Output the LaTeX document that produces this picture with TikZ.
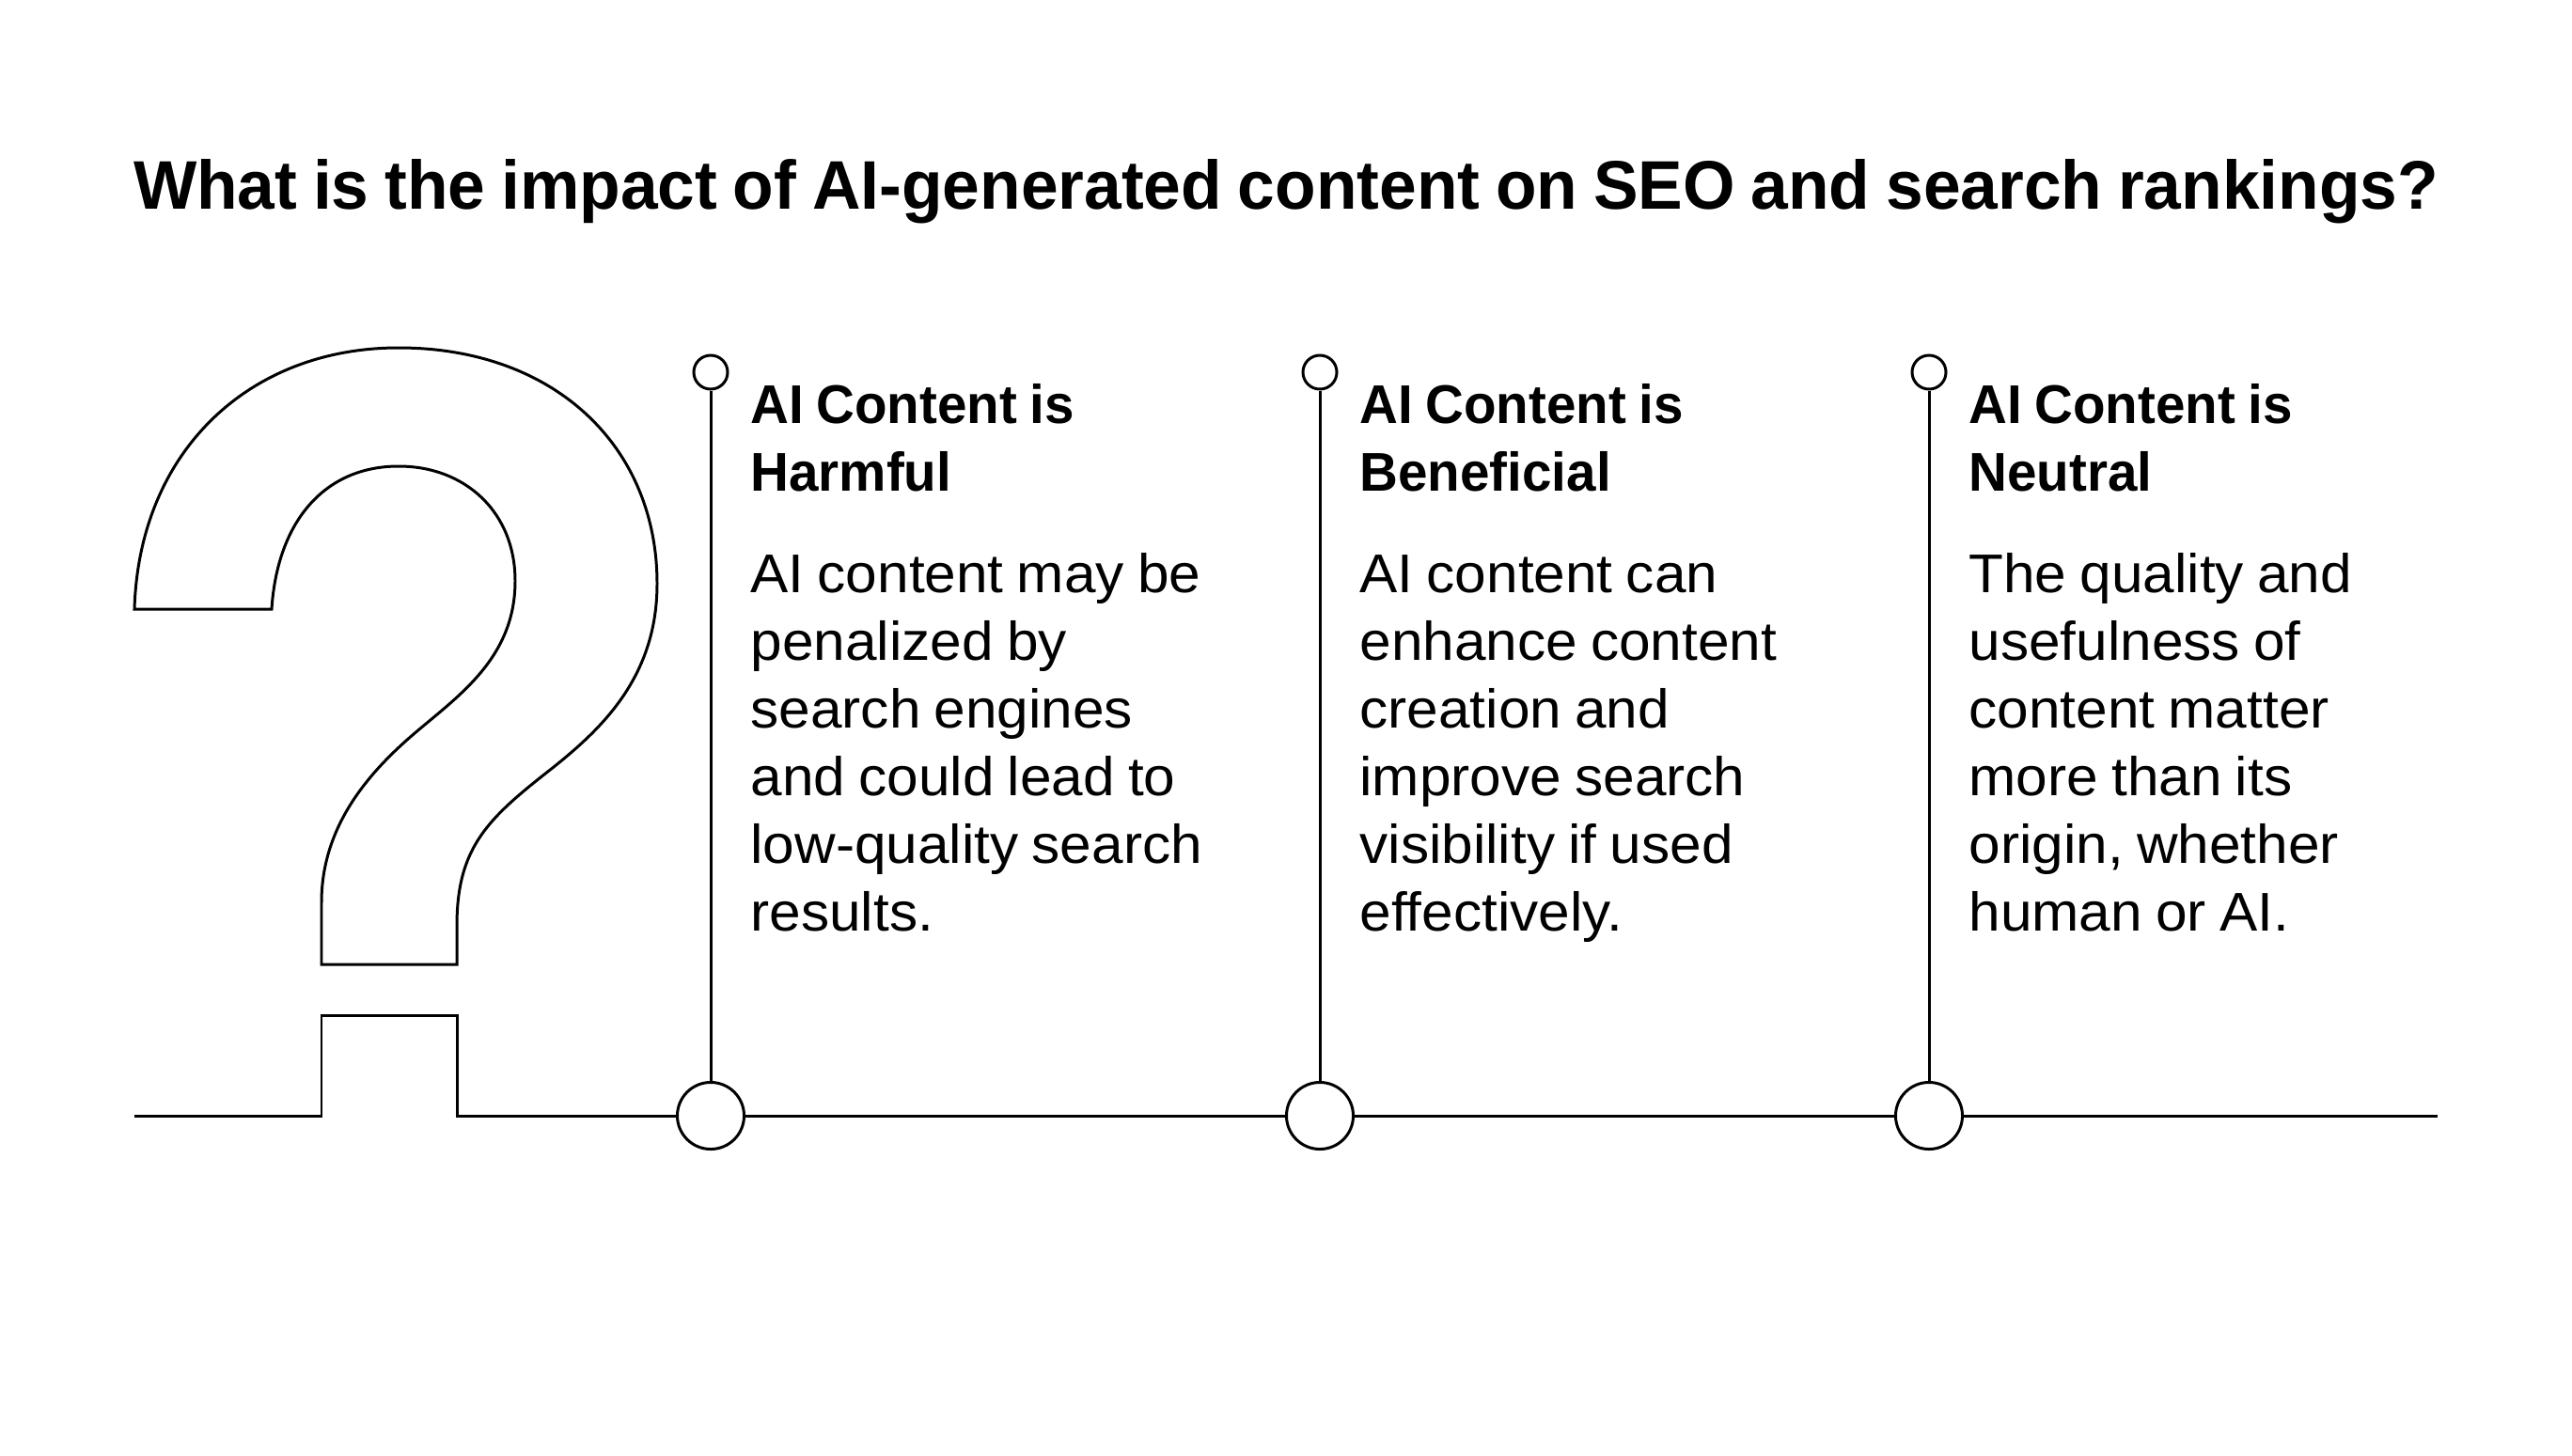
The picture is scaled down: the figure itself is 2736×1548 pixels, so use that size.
\documentclass[tikz,border=0pt]{standalone}
\usepackage{fontspec}
\setmainfont{Liberation Sans}[FakeStretch=1.04,WordSpace=0.85,BoldFeatures={FakeStretch=0.975,WordSpace=0.85}]
\usetikzlibrary{positioning}

\tikzset{
  outline/.style={line width=0.85pt,line join=miter},
  dotsmall/.style={circle,draw,outline,fill=white,inner sep=0pt,minimum size=0.36cm},
  dotbig/.style={circle,draw,outline,fill=white,inner sep=0pt,minimum size=0.71cm},
  headtext/.style={anchor=base west,inner sep=0pt,text width=5cm,align=flush left,font=\bfseries\fontsize{16.5}{20.48}\selectfont},
  bodytext/.style={anchor=base west,inner sep=0pt,text width=5.4cm,align=flush left,font=\fontsize{16.5}{20.48}\selectfont},
  titletext/.style={anchor=base,inner sep=0pt,font=\bfseries\fontsize{20.8}{25}\selectfont}
}

\begin{document}
\begin{tikzpicture}[x=0.01cm,y=-0.01cm,outline]

\useasboundingbox (0,0) rectangle (2736,1548);

% Titel
\node[titletext] (title) at (1368,222) {What is the impact of AI-generated content on SEO and search rankings?};

% Fragezeichen
\draw (143,648) .. controls (148,480) and (265,370) .. (424,370)
  .. controls (590,370) and (699,475) .. (699,621)
  .. controls (699,720) and (640,775) .. (589,816)
  .. controls (520,870) and (486,900) .. (486,985)
  -- (486,1026) -- (342,1026) -- (342,960)
  .. controls (342,885) and (385,830) .. (432,788)
  .. controls (480,745) and (548,705) .. (548,618)
  .. controls (548,545) and (495,496) .. (424,496)
  .. controls (345,496) and (295,555) .. (289,648)
  -- cycle;

% Spalten
\node[dotbig] (base1) at (756,1187) {};
\node[dotbig] (base2) at (1404,1187) {};
\node[dotbig] (base3) at (2052,1187) {};
\node[dotsmall] (top1) at (756,396) {};
\node[dotsmall] (top2) at (1404,396) {};
\node[dotsmall] (top3) at (2052,396) {};

\foreach \i in {1,2,3} \draw (top\i) -- (base\i);

% Grundlinie
\coordinate (linestart) at (143,1187);
\coordinate (lineend) at (2593,1187);
\draw (linestart) -- (342,1187) -- (342,1080) -- (486,1080) -- (486,1187) -- (base1);
\draw (base1) -- (base2);
\draw (base2) -- (base3);
\draw (base3) -- (lineend);

% Texte
\node[headtext] (head1) at (797,450.5) {AI Content is\\Harmful};
\node[bodytext] (body1) at (797,630.5) {AI content may be\\penalized by\\search engines\\and could lead to\\low-quality search\\results.};

\node[headtext] (head2) at (1445,450.5) {AI Content is\\Beneficial};
\node[bodytext] (body2) at (1445,630.5) {AI content can\\enhance content\\creation and\\improve search\\visibility if used\\effectively.};

\node[headtext] (head3) at (2093,450.5) {AI Content is\\Neutral};
\node[bodytext] (body3) at (2093,630.5) {The quality and\\usefulness of\\content matter\\more than its\\origin, whether\\human or AI.};

\end{tikzpicture}
\end{document}
